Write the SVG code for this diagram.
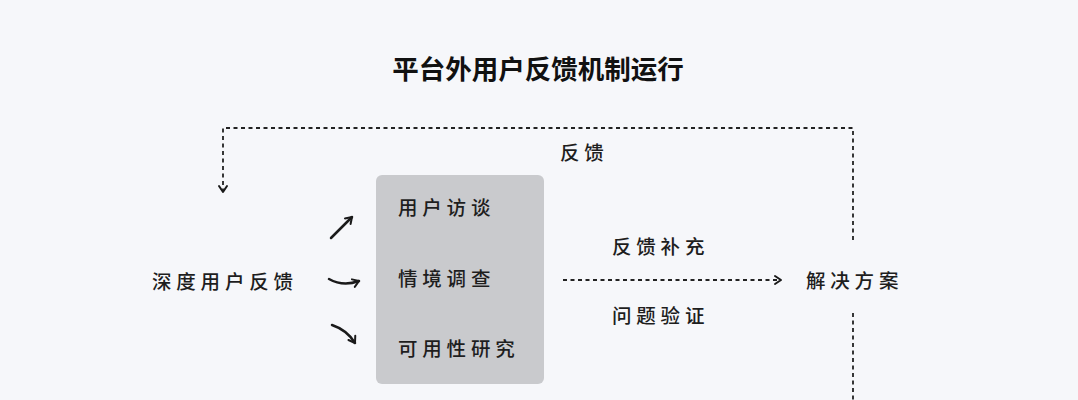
<svg xmlns="http://www.w3.org/2000/svg" width="1078" height="400" viewBox="0 0 1078 400">
<defs>
<style>
.t{font-family:"Noto Sans CJK SC","Noto Sans",sans-serif;font-size:19.5px;font-weight:500;fill:#1e1e1e;letter-spacing:4.8px;dominant-baseline:central}
.title{font-family:"Noto Sans CJK SC","Noto Sans",sans-serif;font-size:26.5px;font-weight:bold;fill:#111;dominant-baseline:central}
.d{fill:none;stroke:#222;stroke-width:1.8;stroke-dasharray:4 3.5}
.s{fill:none;stroke:#1a1a1a;stroke-width:2.5;stroke-linecap:round}
</style>
<marker id="ah" markerWidth="12" markerHeight="12" refX="9" refY="6" orient="auto" markerUnits="userSpaceOnUse">
<path d="M3,2 L9,6 L3,10" fill="none" stroke="#1a1a1a" stroke-width="2" stroke-linecap="round" stroke-linejoin="round"/>
</marker>
</defs>
<rect width="1078" height="400" fill="#f6f7fa"/>
<text class="title" x="538" y="67" text-anchor="middle">平台外用户反馈机制运行</text>
<g id="connectors">
<path class="d" d="M853,240 V128 H223 V192" marker-end="url(#ah)"/>
<path class="d" d="M853,313 V400"/>
<path class="d" d="M563,280 H781" marker-end="url(#ah)"/>
<path class="s" d="M331,238 Q343,226 352,217" marker-end="url(#ah)"/>
<path class="s" d="M329,279 Q343,287 359,281" marker-end="url(#ah)"/>
<path class="s" d="M332,325 Q347,330 355,343" marker-end="url(#ah)"/>
<text class="t" x="560" y="151">反馈</text>
<text class="t" x="612" y="245">反馈补充</text>
<text class="t" x="612" y="314">问题验证</text>
</g>
<g id="node-source">
<text class="t" x="152" y="280">深度用户反馈</text>
</g>
<g id="node-methods">
<rect x="376" y="175" width="168" height="209" rx="6" fill="#c9cacd"/>
<text class="t" x="398" y="206">用户访谈</text>
<text class="t" x="398" y="277">情境调查</text>
<text class="t" x="398" y="347">可用性研究</text>
</g>
<g id="node-solution">
<text class="t" x="806" y="279">解决方案</text>
</g>
</svg>
